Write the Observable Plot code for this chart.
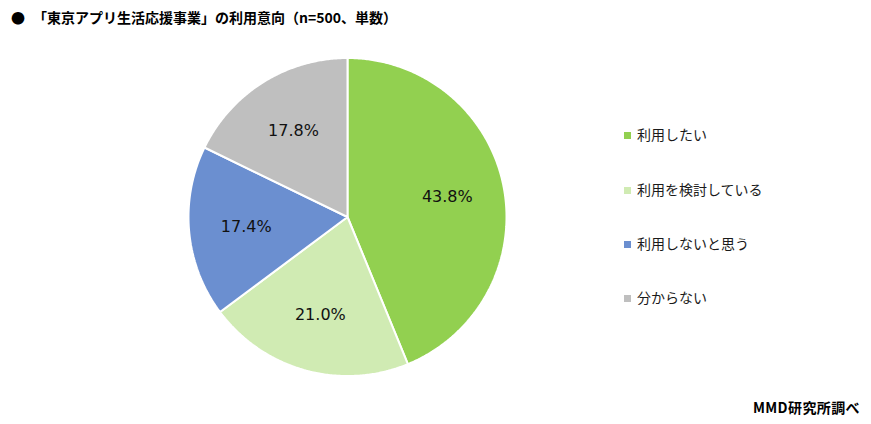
<!DOCTYPE html>
<html><head><meta charset="utf-8">
<script src="https://cdn.jsdelivr.net/npm/d3@7"></script>
<script src="https://cdn.jsdelivr.net/npm/@observablehq/plot@0.6"></script>
<style>
body{margin:0;background:#fff;}
#wrap{position:relative;width:871px;height:424px;overflow:hidden;font-family:"Noto Sans CJK JP","Noto Sans",sans-serif;}
#title{height:34px;box-sizing:border-box;padding:9px 0 0 11px;font-size:14px;font-weight:bold;color:#000;line-height:16px;white-space:nowrap;}
#title .b{display:inline-block;width:22px;}
#legend{position:absolute;left:624px;top:0;}
.li{position:absolute;left:0;white-space:nowrap;font-size:14px;color:#1a1a1a;line-height:16px;}
.li .sw{display:inline-block;width:7px;height:7px;margin-right:6px;vertical-align:1px;}
#caption{position:absolute;right:11px;top:399px;font-size:14px;font-weight:bold;color:#000;line-height:16px;letter-spacing:0.4px;}
</style></head>
<body>
<div id="wrap">
<div id="title"><span class="b">●</span>「東京アプリ生活応援事業」の利用意向（n=500、単数）</div>
<div id="chart"></div>
<div id="legend"></div>
<div id="caption">MMD研究所調べ</div>
</div>
<script>
const categories = ["利用したい", "利用を検討している", "利用しないと思う", "分からない"];
const values = [43.8, 21.0, 17.4, 17.8];
const colors = ["#92D050", "#D0EBB3", "#6B8FD0", "#BFBFBF"];

const total = d3.sum(values);
let cum = 0;
const slices = categories.map((c, i) => {
  const start = cum / total;
  cum += values[i];
  const end = cum / total;
  return {cat: c, value: values[i], start, end, mid: (start + end) / 2};
});

const pts = [];
slices.forEach(s => {
  pts.push({cat: s.cat, x: 0, y: 0});
  const a0 = s.start * 2 * Math.PI, a1 = s.end * 2 * Math.PI;
  const n = Math.max(2, Math.ceil((a1 - a0) / (Math.PI / 360)));
  for (let k = 0; k <= n; k++) {
    const a = a0 + (a1 - a0) * k / n;
    pts.push({cat: s.cat, x: Math.sin(a), y: Math.cos(a)});
  }
});

const labelR = 0.64;
const chart = Plot.plot({
  width: 871,
  height: 390,
  margin: 0,
  style: {background: "transparent"},
  x: {domain: [-1, 1], range: [188, 506], axis: null},
  y: {domain: [-1, 1], range: [341.5, 23.5], axis: null},
  color: {domain: categories, range: colors},
  marks: [
    Plot.line(pts, {x: "x", y: "y", z: "cat", fill: "cat", stroke: "white", strokeWidth: 2, curve: "linear-closed", strokeLinejoin: "miter"}),
    Plot.text(slices, {
      x: d => labelR * Math.sin(d.mid * 2 * Math.PI),
      y: d => labelR * Math.cos(d.mid * 2 * Math.PI),
      text: d => d.value.toFixed(1) + "%",
      fontSize: 16,
      fontFamily: "DejaVu Sans",
      fill: "#111"
    })
  ]
});
document.getElementById("chart").appendChild(chart);

const legend = document.getElementById("legend");
const legendTops = [126, 181, 235, 289];
categories.forEach((c, i) => {
  const el = document.createElement("div");
  el.className = "li";
  el.style.top = legendTops[i] + "px";
  el.innerHTML = `<span class="sw" style="background:${colors[i]}"></span>${c}`;
  legend.appendChild(el);
});
</script>
</body></html>
